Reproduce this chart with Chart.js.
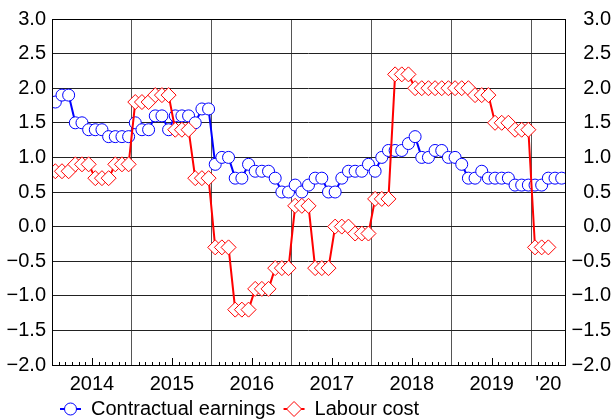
<!DOCTYPE html>
<html>
<head>
<meta charset="utf-8">
<script src="https://cdn.jsdelivr.net/npm/chart.js@4"></script>
<style>
  body { margin: 0; background: #fff; }
  #wrap { width: 613px; height: 420px; }
</style>
</head>
<body>
<div id="wrap"><canvas id="wageChart" width="613" height="420"></canvas></div>
<script>
// monthly values, Jan 2014 - May 2020 (% yoy)
const contractual = [
    1.8, 1.9, 1.9, 1.5, 1.5, 1.4, 1.4, 1.4, 1.3, 1.3, 1.3, 1.3,   // 2014
    1.5, 1.4, 1.4, 1.6, 1.6, 1.4, 1.6, 1.6, 1.6, 1.5, 1.7, 1.7,   // 2015
    0.9, 1.0, 1.0, 0.7, 0.7, 0.9, 0.8, 0.8, 0.8, 0.7, 0.5, 0.5,   // 2016
    0.6, 0.5, 0.6, 0.7, 0.7, 0.5, 0.5, 0.7, 0.8, 0.8, 0.8, 0.9,   // 2017
    0.8, 1.0, 1.1, 1.1, 1.1, 1.2, 1.3, 1.0, 1.0, 1.1, 1.1, 1.0,   // 2018
    1.0, 0.9, 0.7, 0.7, 0.8, 0.7, 0.7, 0.7, 0.7, 0.6, 0.6, 0.6,   // 2019
    0.6, 0.6, 0.7, 0.7, 0.7                                       // 2020
];
// quarterly figure shown on each month of the quarter
const labourCost = [
    0.8, 0.8, 0.8, 0.9, 0.9, 0.9, 0.7, 0.7, 0.7, 0.9, 0.9, 0.9,
    1.8, 1.8, 1.8, 1.9, 1.9, 1.9, 1.4, 1.4, 1.4, 0.7, 0.7, 0.7,
    -0.3, -0.3, -0.3, -1.2, -1.2, -1.2, -0.9, -0.9, -0.9, -0.6, -0.6, -0.6,
    0.3, 0.3, 0.3, -0.6, -0.6, -0.6, 0.0, 0.0, 0.0, -0.1, -0.1, -0.1,
    0.4, 0.4, 0.4, 2.2, 2.2, 2.2, 2.0, 2.0, 2.0, 2.0, 2.0, 2.0,
    2.0, 2.0, 2.0, 1.9, 1.9, 1.9, 1.5, 1.5, 1.5, 1.4, 1.4, 1.4,
    -0.3, -0.3, -0.3
];
const yearLabels = ['2014', '2015', '2016', '2017', '2018', '2019', "'20"];
const seriesNames = ['Contractual earnings', 'Labour cost'];

const BLUE = '#0000ff';
const RED = '#ff0000';
const nMonths = contractual.length;

function toPoints(arr) {
    return arr.map((v, i) => ({ x: i + 0.5, y: v }));
}

function fmt(v) {
    return v.toFixed(1).replace('-', '\u2212');
}

// year boundaries get a grid line, mid-year positions carry the label
function buildXTicks(scale) {
    const ticks = [];
    for (let i = 0; i < yearLabels.length; i++) {
        ticks.push({ value: i * 12 });
        const last = i === yearLabels.length - 1;
        const mid = last ? i * 12 + (nMonths - i * 12) / 2 : i * 12 + 6;
        ticks.push({ value: mid, label: yearLabels[i] });
    }
    scale.ticks = ticks;
}

Chart.defaults.font.family = '"Liberation Sans", Arial, sans-serif';
Chart.defaults.font.size = 20;
Chart.defaults.color = '#000';

// plot frame + small month ticks along the bottom
const framePlugin = {
    id: 'frame',
    afterDraw(chart) {
        const ctx = chart.ctx;
        const a = chart.chartArea;
        const xs = chart.scales.x;
        ctx.save();
        ctx.strokeStyle = '#000';
        ctx.lineWidth = 1;
        for (let m = 1; m < nMonths; m++) {
            if (m % 12 === 0) continue;
            const px = Math.round(xs.getPixelForValue(m)) + 0.5;
            const len = (m % 12 === 6) ? 7 : 3;
            ctx.beginPath();
            ctx.moveTo(px, a.bottom);
            ctx.lineTo(px, a.bottom - len);
            ctx.stroke();
        }
        ctx.strokeRect(Math.round(a.left) + 0.5, Math.round(a.top) + 0.5,
            Math.round(a.right - a.left), Math.round(a.bottom - a.top));
        ctx.restore();
    }
};

// legend with line + marker icons
const legendPlugin = {
    id: 'customLegend',
    afterDraw(chart) {
        const ctx = chart.ctx;
        const y = 409;
        ctx.save();
        ctx.font = '20px "Liberation Sans", Arial, sans-serif';
        ctx.textBaseline = 'middle';
        ctx.fillStyle = '#000';
        let x = 60;
        const styles = [
            { color: BLUE, shape: 'circle', r: 6 },
            { color: RED, shape: 'diamond', r: 7.5 }
        ];
        styles.forEach((s, i) => {
            ctx.strokeStyle = s.color;
            ctx.lineWidth = 2;
            ctx.beginPath();
            ctx.moveTo(x, y);
            ctx.lineTo(x + 21, y);
            ctx.stroke();
            const cx = x + 10.5;
            ctx.lineWidth = 1;
            ctx.fillStyle = '#fff';
            ctx.beginPath();
            if (s.shape === 'circle') {
                ctx.arc(cx, y, s.r, 0, Math.PI * 2);
            } else {
                ctx.moveTo(cx - s.r, y);
                ctx.lineTo(cx, y - s.r);
                ctx.lineTo(cx + s.r, y);
                ctx.lineTo(cx, y + s.r);
                ctx.closePath();
            }
            ctx.fill();
            ctx.stroke();
            ctx.fillStyle = '#000';
            ctx.fillText(seriesNames[i], x + 31, y);
            x += 31 + ctx.measureText(seriesNames[i]).width + 8;
        });
        ctx.restore();
    }
};

const ctx = document.getElementById('wageChart').getContext('2d');
const chart = new Chart(ctx, {
    type: 'line',
    data: {
        datasets: [{
            label: seriesNames[0],
            data: toPoints(contractual),
            borderColor: BLUE,
            backgroundColor: '#fff',
            borderWidth: 2,
            pointStyle: 'circle',
            pointRadius: 6,
            pointBorderWidth: 1,
            pointBorderColor: BLUE,
            pointBackgroundColor: '#fff',
            order: 1,
            clip: 0
        }, {
            label: seriesNames[1],
            data: toPoints(labourCost),
            borderColor: RED,
            backgroundColor: '#fff',
            borderWidth: 2,
            pointStyle: 'rectRot',
            pointRadius: 7.5,
            pointBorderWidth: 1,
            pointBorderColor: RED,
            pointBackgroundColor: '#fff',
            order: 0, // red drawn on top
            clip: 0
        }]
    },
    options: {
        responsive: false,
        animation: false,
        devicePixelRatio: 1,
        layout: { padding: { top: 19, bottom: 25, left: 0, right: 2 } },
        plugins: {
            legend: { display: false },
            tooltip: { enabled: false }
        },
        scales: {
            x: {
                type: 'linear',
                min: 0,
                max: nMonths,
                afterBuildTicks: buildXTicks,
                afterFit: (s) => { s.height = 30; },
                border: { display: false },
                grid: {
                    drawTicks: false,
                    color: (c) => (c.tick && c.tick.value % 12 === 0) ? '#555' : 'rgba(0,0,0,0)',
                    lineWidth: 1
                },
                ticks: {
                    autoSkip: false,
                    maxRotation: 0,
                    padding: 7,
                    callback: function(value, index, ticks) {
                        return ticks[index].label || '';
                    }
                }
            },
            y: {
                position: 'left',
                min: -2,
                max: 3,
                afterFit: (s) => { s.width = 52; },
                border: { display: false },
                grid: { drawTicks: false, color: '#222', lineWidth: 1 },
                ticks: { stepSize: 0.5, padding: 6, callback: (v) => fmt(v) }
            },
            y2: {
                position: 'right',
                min: -2,
                max: 3,
                afterFit: (s) => { s.width = 46; },
                border: { display: false },
                grid: { drawTicks: false, drawOnChartArea: false },
                ticks: {
                    stepSize: 0.5,
                    padding: 6,
                    crossAlign: 'far',
                    callback: (v) => fmt(v)
                }
            }
        }
    },
    plugins: [framePlugin, legendPlugin]
});
</script>
</body>
</html>
